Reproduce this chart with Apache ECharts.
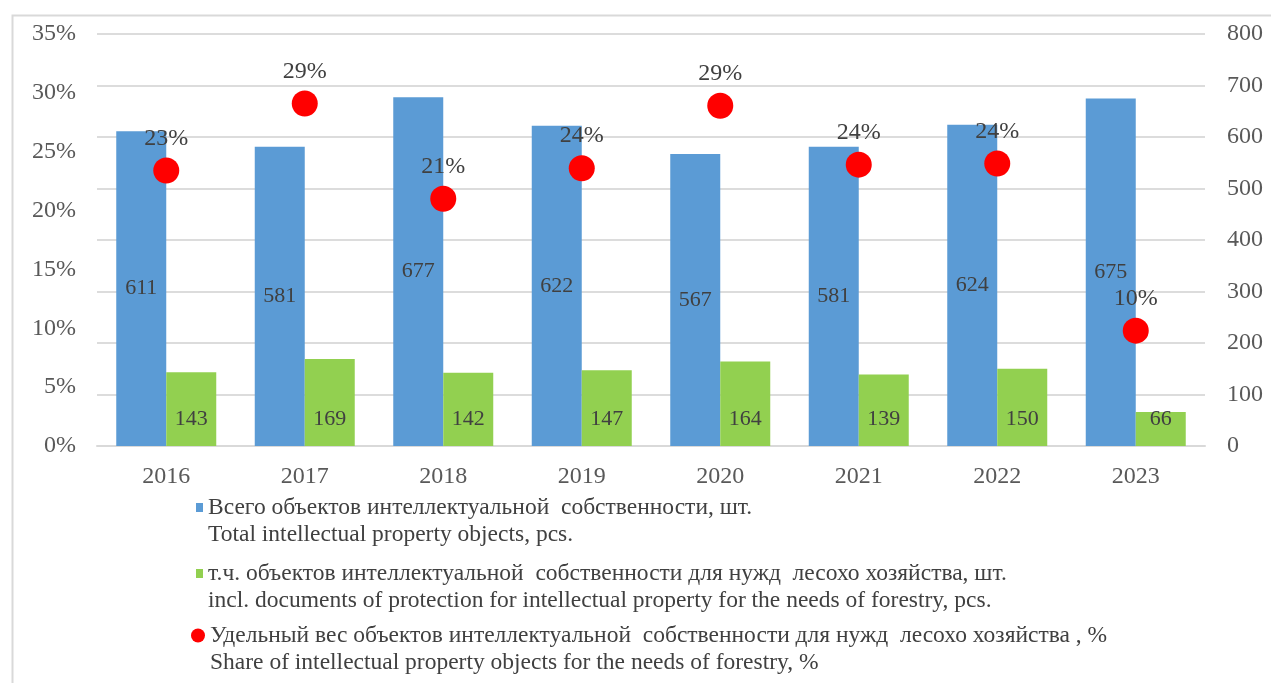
<!DOCTYPE html>
<html>
<head>
<meta charset="utf-8">
<script src="https://cdn.jsdelivr.net/npm/echarts@6/dist/echarts.min.js"></script>
<style>
html,body{margin:0;padding:0;background:#fff;}
#chart{width:1271px;height:683px;}
</style>
</head>
<body>
<div id="chart"></div>
<script>
const categories = ['2016', '2017', '2018', '2019', '2020', '2021', '2022', '2023'];
const totalObjects = [611, 581, 677, 622, 567, 581, 624, 675];
const forestryObjects = [143, 169, 142, 147, 164, 139, 150, 66];
const forestryShare = [23.4, 29.1, 21.0, 23.6, 28.9, 23.9, 24.0, 9.8];
const seriesNamesRu = [
  'Всего объектов интеллектуальной  собственности, шт.',
  'т.ч. объектов интеллектуальной  собственности для нужд  лесохо хозяйства, шт.',
  'Удельный вес объектов интеллектуальной  собственности для нужд  лесохо хозяйства , %'
];
const seriesNamesEn = [
  'Total intellectual property objects, pcs.',
  'incl. documents of protection for intellectual property for the needs of forestry, pcs.',
  'Share of intellectual property objects for the needs of forestry, %'
];

const FONT = '"Liberation Serif", "Times New Roman", serif';
const chart = echarts.init(document.getElementById('chart'));

function legendFor(i, left, top, icon, w, h) {
  return {
    data: [seriesNamesRu[i]],
    left: left,
    top: top,
    padding: 0,
    icon: icon,
    itemWidth: w,
    itemHeight: h,
    itemGap: 0,
    selectedMode: false,
    formatter: function (name) { return ' \n' + name + '\n' + seriesNamesEn[i]; },
    textStyle: {
      fontFamily: FONT,
      fontSize: 23.5,
      color: '#404040',
      lineHeight: 27
    }
  };
}

const option = {
  backgroundColor: '#fff',
  animation: false,
  graphic: [{
    type: 'rect',
    left: 10, top: 13,
    shape: { width: 1300, height: 700 },
    style: { fill: 'none', stroke: '#d9d9d9', lineWidth: 2 },
    silent: true
  }],
  grid: { left: 97, right: 66, top: 34, bottom: 237 },
  legend: [
    legendFor(0, 196, 467, 'rect', 7, 9),
    legendFor(1, 196, 533, 'rect', 7, 9),
    legendFor(2, 191, 595, 'circle', 14, 14)
  ],
  xAxis: {
    type: 'category',
    data: categories,
    axisTick: { show: false },
    axisLine: { lineStyle: { color: '#d9d9d9', width: 2 } },
    axisLabel: { fontFamily: FONT, fontSize: 24, color: '#595959', margin: 19 }
  },
  yAxis: [
    {
      type: 'value',
      min: 0, max: 35, interval: 5,
      position: 'left',
      axisLine: { show: false },
      axisTick: { show: false },
      splitLine: { show: false },
      axisLabel: { fontFamily: FONT, fontSize: 24, color: '#595959', margin: 21, formatter: '{value}%' }
    },
    {
      type: 'value',
      min: 0, max: 800, interval: 100,
      position: 'right',
      axisLine: { show: false },
      axisTick: { show: false },
      splitLine: { show: true, lineStyle: { color: '#dcdcdc', width: 2 } },
      axisLabel: { fontFamily: FONT, fontSize: 24, color: '#595959', margin: 22 }
    }
  ],
  series: [
    {
      name: seriesNamesRu[0],
      type: 'bar',
      yAxisIndex: 1,
      data: totalObjects,
      barWidth: 50,
      barGap: '0%',
      itemStyle: { color: '#5B9BD5' },
      label: { show: true, position: 'inside', fontFamily: FONT, fontSize: 22, color: '#404040' }
    },
    {
      name: seriesNamesRu[1],
      type: 'bar',
      yAxisIndex: 1,
      data: forestryObjects,
      barWidth: 50,
      barGap: '0%',
      itemStyle: { color: '#92D050' },
      label: { show: true, position: 'insideBottom', distance: 16, fontFamily: FONT, fontSize: 22, color: '#404040' }
    },
    {
      name: seriesNamesRu[2],
      type: 'scatter',
      yAxisIndex: 0,
      data: forestryShare,
      symbol: 'circle',
      symbolSize: 26,
      itemStyle: { color: '#FF0000', opacity: 1 },
      z: 5,
      label: {
        show: true, position: 'top', distance: 7,
        fontFamily: FONT, fontSize: 24, color: '#404040',
        formatter: function (p) { return Math.round(p.value) + '%'; }
      }
    }
  ]
};
chart.setOption(option);
</script>
</body>
</html>
